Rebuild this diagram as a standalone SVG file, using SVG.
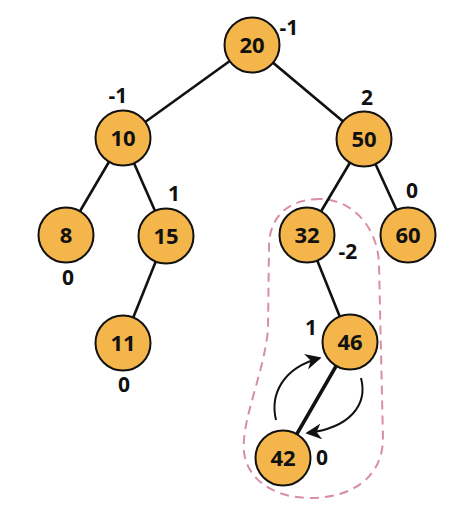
<svg xmlns="http://www.w3.org/2000/svg" width="474" height="517" viewBox="0 0 474 517">
<defs>
<style>
.node circle{fill:#F4B64A;stroke:#111;stroke-width:2}
.node text{font-family:"Open Sans","Liberation Sans",sans-serif;font-weight:bold;font-size:22px;fill:#111;text-anchor:middle}
.lbl{font-family:"Open Sans","Liberation Sans",sans-serif;font-weight:bold;font-size:21px;fill:#111;text-anchor:middle}
.edge{stroke:#111;stroke-width:2.6;fill:none}
.arc{stroke:#111;stroke-width:2;fill:none;marker-end:url(#ah)}
</style>
<marker id="ah" viewBox="0 0 10 10" refX="9" refY="5" markerWidth="8" markerHeight="8" orient="auto" markerUnits="strokeWidth">
<path d="M0,0 L10,5 L0,10 L3,5 Z" fill="#111"/>
</marker>
</defs>
<rect width="474" height="517" fill="#fff"/>
<path d="M320 199 C290 199 270 215 269 245 L268 330 C264 370 246 410 244 440 C240 475 270 498 310 498 C355 498 382 475 383 440 L379 265 C378 225 350 199 320 199 Z" fill="none" stroke="#D98FA3" stroke-width="2" stroke-dasharray="9 6"/>
<g id="connectors">
<line class="edge" x1="252" y1="45" x2="123" y2="138"/>
<line class="edge" x1="252" y1="45" x2="364" y2="139"/>
<line class="edge" x1="123" y1="138" x2="66" y2="235"/>
<line class="edge" x1="123" y1="138" x2="166" y2="236"/>
<line class="edge" x1="364" y1="139" x2="307" y2="235"/>
<line class="edge" x1="364" y1="139" x2="408" y2="235"/>
<line class="edge" x1="166" y1="236" x2="123" y2="343"/>
<line class="edge" x1="307" y1="235" x2="350" y2="342"/>
<line class="edge" x1="350" y1="342" x2="283" y2="458" style="stroke-width:3.5"/>
<path class="arc" d="M276 420 C270 395 282 368 320 358"/>
<path class="arc" d="M361 378 C368 405 350 428 307 433"/>
</g>
<g id="n20" class="node"><circle cx="252" cy="45" r="27.5"/><text x="252" y="53">20</text></g>
<g id="n10" class="node"><circle cx="123" cy="138" r="27.5"/><text x="123" y="146">10</text></g>
<g id="n50" class="node"><circle cx="364" cy="139" r="27.5"/><text x="364" y="147">50</text></g>
<g id="n8" class="node"><circle cx="66" cy="235" r="27.5"/><text x="66" y="243">8</text></g>
<g id="n15" class="node"><circle cx="166" cy="236" r="27.5"/><text x="166" y="244">15</text></g>
<g id="n32" class="node"><circle cx="307" cy="235" r="27.5"/><text x="307" y="243">32</text></g>
<g id="n60" class="node"><circle cx="408" cy="235" r="27.5"/><text x="408" y="243">60</text></g>
<g id="n11" class="node"><circle cx="123" cy="343" r="27.5"/><text x="123" y="351">11</text></g>
<g id="n46" class="node"><circle cx="350" cy="342" r="27.5"/><text x="350" y="350">46</text></g>
<g id="n42" class="node"><circle cx="283" cy="458" r="27.5"/><text x="283" y="466">42</text></g>
<g id="labels">
<text class="lbl" x="289" y="35">-1</text>
<text class="lbl" x="118" y="103">-1</text>
<text class="lbl" x="367" y="105">2</text>
<text class="lbl" x="68" y="285">0</text>
<text class="lbl" x="174" y="201">1</text>
<text class="lbl" x="348" y="259">-2</text>
<text class="lbl" x="412" y="198">0</text>
<text class="lbl" x="124" y="392">0</text>
<text class="lbl" x="311" y="335">1</text>
<text class="lbl" x="322" y="465">0</text>
</g>
</svg>
